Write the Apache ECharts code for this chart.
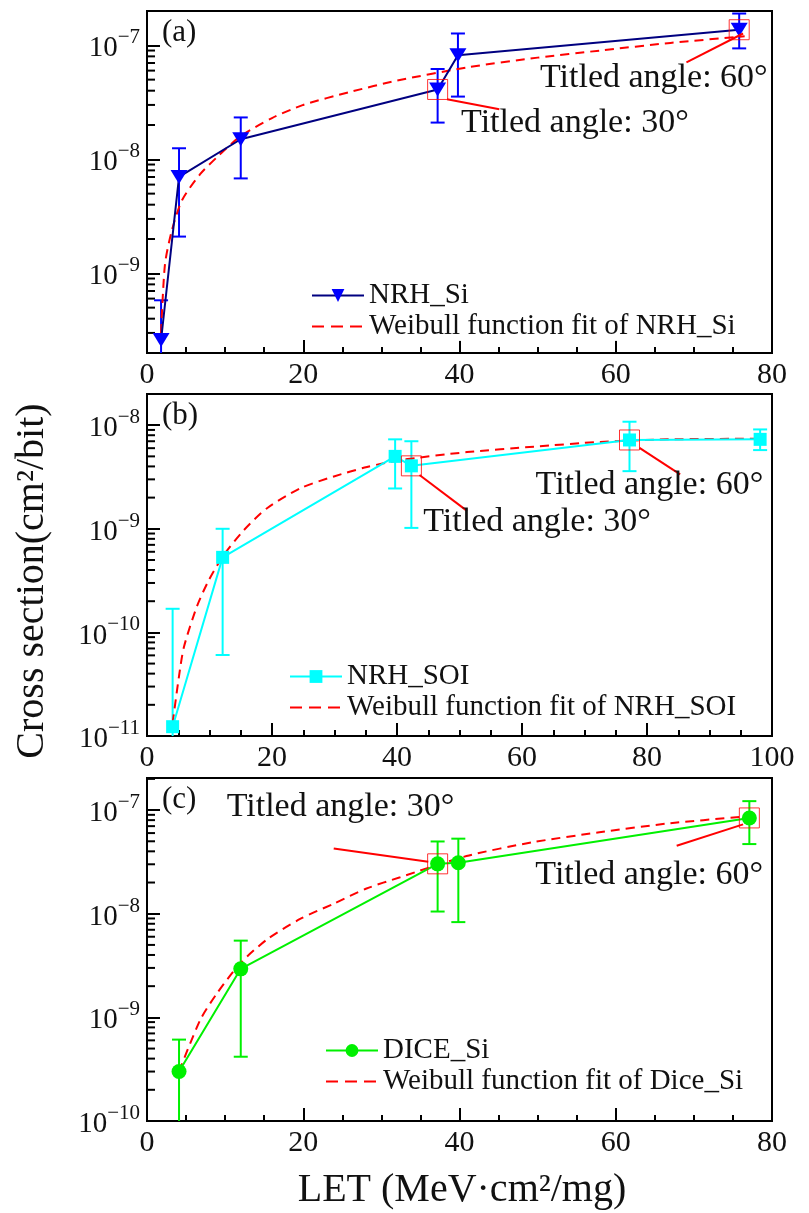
<!DOCTYPE html>
<html><head><meta charset="utf-8">
<script src="https://cdn.jsdelivr.net/npm/echarts@6/dist/echarts.min.js"></script>
<style>html,body{margin:0;padding:0;background:#fff}#c{width:809px;height:1213px}</style>
</head><body><div id="c"></div>
<script>
// ---------- DATA ----------
// Panel (a) NRH_Si
const aX     = [1.8, 4.1, 12.0, 37.2, 39.8, 75.8];
const aY     = [2.6e-10, 7.0e-9, 1.5e-8, 4.1e-8, 8.2e-8, 1.37e-7];
const aLow   = [1e-12, 2.1e-9, 6.8e-9, 2.1e-8, 3.55e-8, 9.4e-8];
const aHigh  = [5.8e-10, 1.25e-8, 2.33e-8, 6.2e-8, 1.27e-7, 1.9e-7];
const aFitX  = [1.8, 2.3, 3.2, 4.5, 6.8, 9, 12, 16, 20, 26, 32, 41, 50, 58, 67, 76.5];
const aFitY  = [3.0e-10, 1.2e-9, 2.4e-9, 4.4e-9, 7.4e-9, 1.05e-8, 1.6e-8, 2.3e-8, 3.0e-8, 3.9e-8, 4.9e-8, 6.4e-8, 7.8e-8, 9.0e-8, 1.05e-7, 1.2e-7];
const aMark  = [3, 5];
// Panel (b) NRH_SOI
const bX     = [4.1, 12.1, 39.7, 42.3, 77.2, 98.1];
const bY     = [1.23e-11, 5.3e-10, 5.0e-9, 4.05e-9, 7.2e-9, 7.3e-9];
const bLow   = [1e-13, 6.05e-11, 2.45e-9, 1.02e-9, 3.6e-9, 5.75e-9];
const bHigh  = [1.69e-10, 1.0e-9, 7.3e-9, 7.0e-9, 1.08e-8, 9.1e-9];
const bFitX  = [4.1, 5.1, 5.9, 8.0, 9.9, 12.3, 15.5, 19.2, 24.5, 29.9, 35.2, 40.5, 51.2, 61.9, 72.5, 83.2, 98.4];
const bFitY  = [1.33e-11, 3.7e-11, 7.2e-11, 1.79e-10, 3.2e-10, 5.6e-10, 9.7e-10, 1.58e-9, 2.46e-9, 3.2e-9, 3.95e-9, 4.6e-9, 5.5e-9, 6.2e-9, 6.9e-9, 7.3e-9, 7.4e-9];
const bMark  = [3, 4];
// Panel (c) DICE_Si
const cX     = [4.1, 12.0, 37.2, 39.85, 77.1];
const cY     = [3.0e-10, 2.94e-9, 3.03e-8, 3.1e-8, 8.4e-8];
const cLow   = [1e-12, 4.17e-10, 1.05e-8, 8.3e-9, 4.7e-8];
const cHigh  = [6.1e-10, 5.5e-9, 4.98e-8, 5.3e-8, 1.22e-7];
const cFitX  = [4.1, 6.8, 8.95, 11.9, 15.3, 19.6, 23.9, 28.1, 32.4, 40.9, 49.4, 57.9, 66.5, 76.7];
const cFitY  = [3.0e-10, 9.4e-10, 1.7e-9, 3.3e-9, 5.6e-9, 8.9e-9, 1.25e-8, 1.75e-8, 2.25e-8, 3.6e-8, 4.9e-8, 6.1e-8, 7.4e-8, 8.7e-8];
const cMark  = [2, 4];

const seriesNames = [['NRH_Si', 'Weibull function fit of NRH_Si'],
                     ['NRH_SOI', 'Weibull function fit of NRH_SOI'],
                     ['DICE_Si', 'Weibull function fit of Dice_Si']];
const panelLabels = ['(a)', '(b)', '(c)'];
const xMaxes = [80, 100, 80];
const yRanges = [[2e-10, 2e-7], [1e-11, 2e-8], [1e-10, 2.04e-7]];
const annoTexts = ['Titled angle: 30°', 'Titled angle: 60°'];
// annotation leader lines (data units) and text anchors
const annoLines = [
  [[38.4, 3.36e-8, 45.1, 2.75e-8], [69.05, 7.1e-8, 76.3, 1.27e-7]],
  [[43.6, 3.3e-9, 51.2, 1.49e-9], [78.8, 6.04e-9, 85.3, 3.35e-9]],
  [[23.9, 4.27e-8, 36.0, 3.17e-8], [67.8, 4.53e-8, 76.3, 7.28e-8]]
];
const annoPos = [
  [[40.2, 2.07e-8, 0], [79.45, 5.14e-8, 1]],
  [[44.2, 1.17e-9, 0], [98.6, 2.63e-9, 1]],
  [[10.2, 1.08e-7, 0], [78.85, 2.36e-8, 1]]
];

// ---------- STYLE ----------
const FONT = 'Liberation Serif';
const TXT = '#111';
const grids = [
  {left: 147, top: 11, width: 625, height: 342},
  {left: 147, top: 394, width: 625, height: 342},
  {left: 147, top: 778, width: 625, height: 343}
];
const styles = [
  {line: '#000080', mark: '#0000ff', err: '#0000ff', symbol: 'triangle', rot: 180, size: [17, 14]},
  {line: '#00ffff', mark: '#00ffff', err: '#00ffff', symbol: 'rect', rot: 0, size: 13},
  {line: '#00f000', mark: '#00f000', err: '#00f000', symbol: 'circle', rot: 0, size: 15}
];
const legendPos = [{left: 311, top: 281}, {left: 289, top: 662}, {left: 325, top: 1036}];

const panels = [
  {x: aX, y: aY, lo: aLow, hi: aHigh, fx: aFitX, fy: aFitY, mk: aMark},
  {x: bX, y: bY, lo: bLow, hi: bHigh, fx: bFitX, fy: bFitY, mk: bMark},
  {x: cX, y: cY, lo: cLow, hi: cHigh, fx: cFitX, fy: cFitY, mk: cMark}
];

function supFmt(v) {
  const e = Math.log10(v), r = Math.round(e);
  if (Math.abs(e - r) > 1e-6) return '';
  return '{b|10}{s|−' + (-r) + '}';
}
const supRich = {
  b: {fontSize: 29, fontFamily: FONT, color: TXT, lineHeight: 36, verticalAlign: 'bottom'},
  s: {fontSize: 21, fontFamily: FONT, color: TXT, lineHeight: 36, verticalAlign: 'top'}
};

const option = {
  animation: false,
  backgroundColor: '#fff',
  grid: grids.map(g => Object.assign({show: true, borderColor: '#000', borderWidth: 2, backgroundColor: 'transparent'}, g)),
  xAxis: grids.map((g, i) => ({
    type: 'value', gridIndex: i, min: 0, max: xMaxes[i], interval: 20,
    axisLine: {lineStyle: {color: '#000', width: 2}},
    axisTick: {inside: true, length: 13, lineStyle: {color: '#000', width: 2}},
    minorTick: {show: true, splitNumber: 4, length: 6, lineStyle: {color: '#000', width: 2}},
    splitLine: {show: false},
    axisLabel: {fontSize: 30, fontFamily: FONT, color: TXT, margin: 7}
  })),
  yAxis: grids.map((g, i) => ({
    type: 'log', logBase: 10, gridIndex: i, min: yRanges[i][0], max: yRanges[i][1],
    axisLine: {show: true, lineStyle: {color: '#000', width: 2}},
    axisTick: {show: true, inside: true, length: 13, lineStyle: {color: '#000', width: 2}},
    splitLine: {show: false},
    axisLabel: {margin: 7, formatter: supFmt, rich: supRich}
  })),
  legend: grids.map((g, i) => ({
    orient: 'vertical', left: legendPos[i].left, top: legendPos[i].top, padding: 0,
    itemWidth: 52, itemHeight: 16, itemGap: 2,
    backgroundColor: 'rgba(255,255,255,0.9)',
    textStyle: {fontSize: 29, fontFamily: FONT, color: TXT},
    data: [
      {name: seriesNames[i][0]},
      {name: seriesNames[i][1], itemStyle: {color: 'rgba(0,0,0,0)', borderWidth: 0, opacity: 0},
       lineStyle: {type: [12, 7], width: 2, color: '#ff0000'}}
    ],
    selectedMode: false
  })),
  graphic: [],
  series: []
};

panelLabels.forEach((t, i) => {
  option.graphic.push({type: 'text', x: grids[i].left + 15, y: grids[i].top + 22,
    style: {text: t, fontSize: 31, fontFamily: FONT, fill: TXT, align: 'left', verticalAlign: 'middle'}});
});
option.graphic.push({type: 'text', x: 462, y: 1190,
  style: {text: 'LET (MeV·cm²/mg)', fontSize: 40, fontFamily: FONT, fill: TXT, align: 'center', verticalAlign: 'middle'}});
option.graphic.push({type: 'text', x: 32, y: 581, rotation: Math.PI / 2,
  style: {text: 'Cross section(cm²/bit)', fontSize: 40, fontFamily: FONT, fill: TXT, align: 'center', verticalAlign: 'middle'}});

panels.forEach((p, i) => {
  const st = styles[i];
  // minor log ticks (axis decoration)
  const minors = [];
  const [ymin, ymax] = yRanges[i];
  for (let d = Math.floor(Math.log10(ymin)); d <= Math.ceil(Math.log10(ymax)); d++) {
    for (let k = 2; k <= 9; k++) {
      const v = k * Math.pow(10, d);
      if (v > ymin * 1.0001 && v < ymax * 0.9999) minors.push([0, v]);
    }
  }
  option.series.push({
    type: 'custom', xAxisIndex: i, yAxisIndex: i, silent: true, z: 1,
    data: minors,
    renderItem: (params, api) => {
      const c = api.coord([api.value(0), api.value(1)]);
      return {type: 'line', shape: {x1: c[0], y1: c[1], x2: c[0] + 8, y2: c[1]},
        style: {stroke: '#000', lineWidth: 2}};
    }
  });
  // error bars
  option.series.push({
    type: 'custom', xAxisIndex: i, yAxisIndex: i, silent: true, clip: true, z: 2,
    encode: {x: 0, y: [1, 2]},
    data: p.x.map((x, j) => [x, p.lo[j], p.hi[j]]),
    renderItem: (params, api) => {
      const x = api.value(0);
      const a = api.coord([x, api.value(1)]), b = api.coord([x, api.value(2)]);
      const w = 7, s = {stroke: st.err, lineWidth: 2};
      return {type: 'group', children: [
        {type: 'line', shape: {x1: a[0], y1: a[1], x2: b[0], y2: b[1]}, style: s},
        {type: 'line', shape: {x1: a[0] - w, y1: a[1], x2: a[0] + w, y2: a[1]}, style: s},
        {type: 'line', shape: {x1: b[0] - w, y1: b[1], x2: b[0] + w, y2: b[1]}, style: s}
      ]};
    }
  });
  // fit
  option.series.push({
    name: seriesNames[i][1], type: 'line', xAxisIndex: i, yAxisIndex: i, z: 3,
    data: p.fx.map((x, j) => [x, p.fy[j]]),
    symbol: 'none', smooth: 0.25,
    lineStyle: {color: '#ff0000', width: 2, type: [9, 6]},
    itemStyle: {color: '#ff0000'}
  });
  // measured
  option.series.push({
    name: seriesNames[i][0], type: 'line', xAxisIndex: i, yAxisIndex: i, z: 4,
    data: p.x.map((x, j) => [x, p.y[j]]),
    symbol: st.symbol, symbolRotate: st.rot, symbolSize: st.size, showAllSymbol: true,
    lineStyle: {color: st.line, width: 2},
    itemStyle: {color: st.mark}
  });
  // highlight squares
  option.series.push({
    type: 'scatter', xAxisIndex: i, yAxisIndex: i, silent: true, z: 5,
    data: p.mk.map(j => [p.x[j], p.y[j]]),
    symbol: 'rect', symbolSize: 20,
    itemStyle: {color: 'rgba(0,0,0,0)', borderColor: '#ff0000', borderWidth: 1}
  });
  // annotation leader lines
  option.series.push({
    type: 'custom', xAxisIndex: i, yAxisIndex: i, silent: true, z: 5,
    encode: {x: [0, 2], y: [1, 3]},
    data: annoLines[i],
    renderItem: (params, api) => {
      const a = api.coord([api.value(0), api.value(1)]), b = api.coord([api.value(2), api.value(3)]);
      return {type: 'line', shape: {x1: a[0], y1: a[1], x2: b[0], y2: b[1]}, style: {stroke: '#ff0000', lineWidth: 2}};
    }
  });
  // annotation texts
  option.series.push({
    type: 'custom', xAxisIndex: i, yAxisIndex: i, silent: true, z: 6,
    encode: {x: 0, y: 1},
    data: annoPos[i],
    renderItem: (params, api) => {
      const c = api.coord([api.value(0), api.value(1)]);
      const idx = api.value(2);
      return {type: 'text', x: c[0], y: c[1],
        style: {text: annoTexts[idx], fontSize: 34, fontFamily: FONT, fill: TXT,
          align: idx === 0 ? 'left' : 'right', verticalAlign: 'middle'}};
    }
  });
});

const chart = echarts.init(document.getElementById('c'), null, {renderer: 'canvas'});
chart.setOption(option);
</script></body></html>
